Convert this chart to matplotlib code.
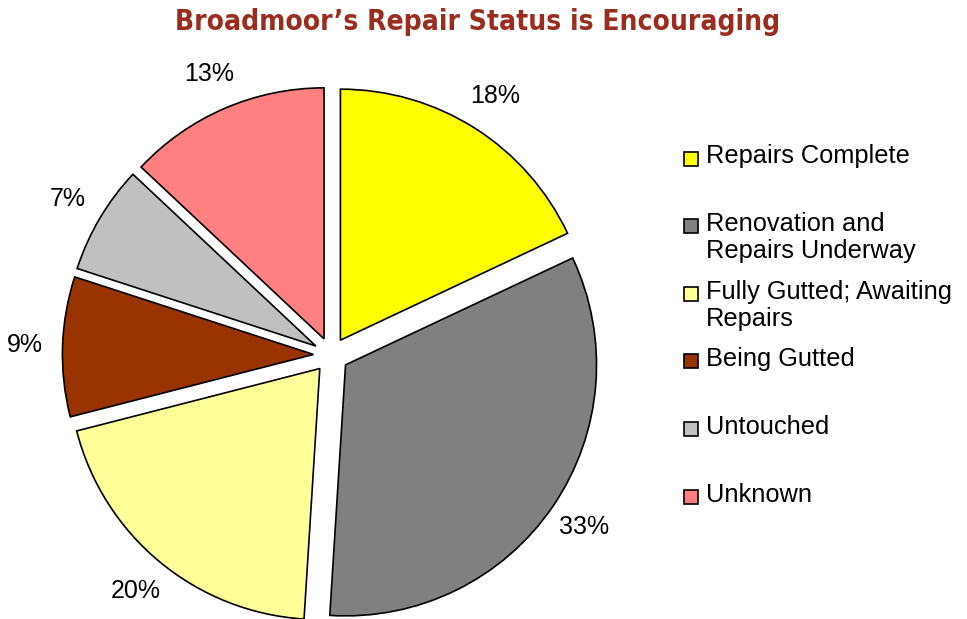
import numpy as np
import matplotlib.pyplot as plt
from matplotlib.patches import Rectangle

# data
labels = ['Repairs Complete', 'Renovation and\nRepairs Underway', 'Fully Gutted; Awaiting\nRepairs',
          'Being Gutted', 'Untouched', 'Unknown']
shares = [18, 33, 20, 9, 7, 13]
colors = ['#FFFF00', '#808080', '#FFFF99', '#993300', '#C0C0C0', '#FF8080']

W, H = 967, 619
fig = plt.figure(figsize=(W / 100, H / 100), dpi=100)

# pie axes: center (331, 355) px from top, radius 251 px
R = 251.0
cx, cy = 331.0, H - 355.0
lim = 1.4
side = 2 * lim * R
ax = fig.add_axes([(cx - lim * R) / W, (cy - lim * R) / H, side / W, side / H])

wedges, texts, autotexts = ax.pie(shares, colors=colors, explode=[0.07] * len(shares),
                                  startangle=90, counterclock=False,
                                  autopct='%1.0f%%', pctdistance=1.15,
                                  wedgeprops=dict(edgecolor='black', linewidth=1.2))
for t in autotexts:
    t.set_fontsize(18)
    t.set_family('Liberation Sans')
ax.set_xlim(-lim, lim)
ax.set_ylim(-lim, lim)
ax.axis('off')

# title
fig.text(478 / W, 1 - 22 / H, 'Broadmoor\u2019s Repair Status is Encouraging',
         ha='center', va='center', fontsize=20.2, fontweight='bold', color='#9B2D20',
         family='DejaVu Sans', fontstretch='condensed')

# legend, drawn by hand like the excel one
y0, step = 158.5, 67.6
for i in range(len(labels)):
    yc = y0 + i * step
    fig.patches.append(Rectangle((684 / W, 1 - (yc + 7) / H), 14 / W, 14 / H,
                                 transform=fig.transFigure, facecolor=colors[i],
                                 edgecolor='black', linewidth=1.2))
    fig.text(706 / W, 1 - (yc - 14) / H, labels[i], ha='left', va='top', fontsize=18.3,
             family='Liberation Sans', linespacing=1.17)

plt.savefig('out.png', dpi=100)
